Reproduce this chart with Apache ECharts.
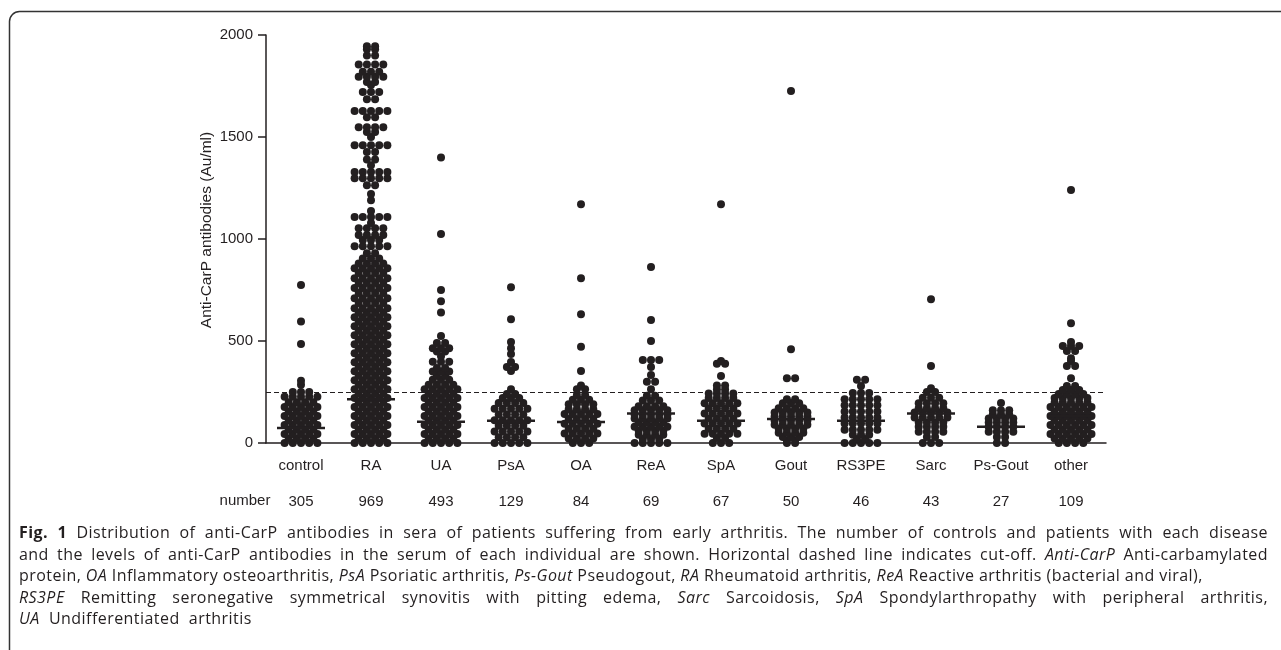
<!DOCTYPE html>
<html>
<head>
<meta charset="utf-8">
<script src="https://cdn.jsdelivr.net/npm/echarts@6/dist/echarts.min.js"></script>
<style>
  html, body { margin: 0; padding: 0; background: #fff; }
  #wrap { position: relative; width: 1281px; height: 650px; overflow: hidden; }
  #chart { position: absolute; left: 0; top: 0; width: 1281px; height: 650px; }
  #caption {
    position: absolute; left: 19px; top: 522px; width: 1249px;
    font-family: "Open Sans", "Noto Sans", sans-serif; font-size: 16px; letter-spacing: 0.45px;
    line-height: 21.5px; color: #231f20;
  }
  #caption div { white-space: nowrap; text-align: justify; text-align-last: justify; }
  #caption div.last { text-align-last: left; }
  #caption i { font-style: italic; }
</style>
</head>
<body>
<div id="wrap">
  <div id="chart"></div>
  <div id="caption">
    <div><b>Fig. 1</b> Distribution of anti-CarP antibodies in sera of patients suffering from early arthritis. The number of controls and patients with each disease</div>
    <div>and the levels of anti-CarP antibodies in the serum of each individual are shown. Horizontal dashed line indicates cut-off. <i>Anti-CarP</i> Anti-carbamylated</div>
    <div class="last">protein, <i>OA</i> Inflammatory osteoarthritis, <i>PsA</i> Psoriatic arthritis, <i>Ps-Gout</i> Pseudogout, <i>RA</i> Rheumatoid arthritis, <i>ReA</i> Reactive arthritis (bacterial and viral),</div>
    <div><i>RS3PE</i> Remitting seronegative symmetrical synovitis with pitting edema, <i>Sarc</i> Sarcoidosis, <i>SpA</i> Spondylarthropathy with peripheral arthritis,</div>
    <div class="last"><i>UA</i>&nbsp; Undifferentiated&nbsp; arthritis</div>
  </div>
</div>
<script>
var categories = ['control', 'RA', 'UA', 'PsA', 'OA', 'ReA', 'SpA', 'Gout', 'RS3PE', 'Sarc', 'Ps-Gout', 'other'];
var counts = [305, 969, 493, 129, 84, 69, 67, 50, 46, 43, 27, 109];
var medians = [73, 215, 104, 109, 103, 145, 109, 118, 109, 145, 80, 132];
var cutOff = 250;

// each row: [antibody level, dots side by side at that level]
var controlRows = [[0, 5], [22, 4], [44, 5], [66, 4], [88, 5], [110, 4], [132, 5], [154, 4], [176, 5],
  [200, 4], [227, 5], [250, 3], [285, 1], [305, 1], [485, 1], [595, 1], [775, 1]];
var raRows = [[0, 5], [22, 4], [44, 5], [66, 4], [88, 5], [110, 4], [132, 5], [154, 4], [176, 5],
  [198, 4], [220, 5], [242, 4], [264, 5], [286, 4], [308, 5], [330, 4], [352, 5], [374, 4], [396, 5],
  [418, 4], [440, 5], [462, 4], [484, 5], [506, 4], [528, 5], [550, 4], [572, 5], [594, 4], [616, 5],
  [638, 4], [660, 5], [686, 4], [710, 5], [735, 4], [760, 5], [784, 4], [808, 5], [833, 4], [857, 5],
  [880, 4], [905, 3], [930, 2], [965, 5], [995, 3], [1019, 4], [1053, 4], [1078, 1], [1108, 5],
  [1137, 1], [1190, 1], [1220, 1], [1264, 2], [1298, 5], [1328, 5], [1362, 1], [1390, 2], [1426, 2],
  [1460, 5], [1500, 1], [1524, 2], [1548, 4], [1597, 2], [1627, 5], [1685, 2], [1720, 3], [1755, 1],
  [1770, 2], [1795, 4], [1820, 3], [1855, 4], [1900, 2], [1930, 2], [1945, 2]];
var uaRows = [[0, 5], [22, 4], [44, 5], [66, 4], [88, 5], [110, 4], [132, 5], [154, 4], [176, 5],
  [198, 4], [220, 5], [242, 4], [264, 5], [286, 4], [310, 3], [330, 2], [350, 3], [368, 2], [398, 3],
  [425, 1], [448, 2], [465, 3], [490, 2], [525, 1], [640, 1], [695, 1], [750, 1], [1025, 1], [1400, 1]];
var psaRows = [[0, 5], [28, 4], [56, 5], [84, 4], [112, 5], [140, 4], [168, 5], [196, 4], [220, 3],
  [240, 2], [264, 1], [353, 1], [373, 2], [397, 1], [436, 1], [465, 1], [495, 1], [607, 1], [764, 1]];
var oaRows = [[0, 3], [22, 4], [46, 5], [70, 4], [94, 5], [118, 4], [142, 5], [166, 4], [190, 4],
  [212, 3], [235, 2], [263, 2], [282, 1], [353, 1], [472, 1], [631, 1], [807, 1], [1170, 1]];
var reaRows = [[0, 5], [20, 3], [40, 4], [60, 4], [80, 5], [100, 4], [120, 5], [140, 5], [160, 5],
  [180, 4], [208, 3], [232, 2], [264, 1], [300, 2], [333, 1], [373, 1], [407, 3], [500, 1], [603, 1], [863, 1]];
var spaRows = [[0, 3], [25, 2], [45, 5], [70, 4], [95, 5], [120, 4], [145, 5], [170, 4], [195, 5],
  [220, 4], [243, 4], [262, 2], [282, 2], [329, 1], [388, 2], [402, 1], [1170, 1]];
var goutRows = [[0, 2], [12, 2], [30, 3], [50, 4], [70, 4], [90, 5], [110, 5], [130, 5], [150, 5],
  [170, 4], [195, 3], [215, 2], [318, 2], [460, 1], [1725, 1]];
var rs3peRows = [[0, 5], [20, 2], [40, 3], [65, 5], [95, 5], [125, 5], [155, 5], [185, 5], [215, 5],
  [245, 3], [280, 1], [310, 2]];
var sarcRows = [[0, 3], [30, 2], [55, 4], [80, 4], [100, 4], [125, 5], [150, 5], [170, 4], [195, 4],
  [222, 3], [250, 2], [268, 1], [377, 1], [705, 1]];
var psgoutRows = [[0, 2], [30, 2], [55, 4], [80, 4], [100, 4], [120, 4], [140, 3], [160, 3], [196, 1]];
var otherRows = [[0, 4], [22, 5], [44, 6], [66, 5], [88, 6], [110, 5], [132, 6], [154, 5], [176, 6],
  [198, 5], [220, 5], [240, 4], [260, 3], [280, 2], [318, 1], [377, 2], [402, 1], [416, 1], [451, 2],
  [475, 3], [495, 1], [587, 1], [1240, 1]];

var groupRows = [controlRows, raRows, uaRows, psaRows, oaRows, reaRows, spaRows, goutRows,
  rs3peRows, sarcRows, psgoutRows, otherRows];

var STEP = 0.117; // horizontal distance between neighbouring dots, in category widths
var ink = '#231f20';

var dots = [];
groupRows.forEach(function (rows, i) {
  rows.forEach(function (row) {
    var n = row[1];
    for (var j = 0; j < n; j++) {
      dots.push([i + 0.5 + (j - (n - 1) / 2) * STEP, row[0]]);
    }
  });
});
var medianData = medians.map(function (m, i) { return [i + 0.5, m]; });

var chart = echarts.init(document.getElementById('chart'));
var font = 'Liberation Sans, Arial, sans-serif';

chart.setOption({
  animation: false,
  grid: { left: 266, right: 175, top: 35, bottom: 207 },
  xAxis: [
    {
      type: 'category',
      data: categories,
      axisLine: { lineStyle: { color: ink, width: 1.5 } },
      axisTick: { alignWithLabel: true, length: 6, lineStyle: { color: ink, width: 1.5 } },
      axisLabel: { interval: 0, fontFamily: font, fontSize: 15, color: ink, margin: 15 }
    },
    {
      type: 'category',
      data: categories,
      position: 'bottom',
      axisLine: { show: false },
      axisTick: { show: false },
      axisLabel: {
        interval: 0, fontFamily: font, fontSize: 15, color: ink, margin: 51,
        formatter: function (v, i) { return String(counts[i]); }
      }
    },
    { type: 'value', min: 0, max: 12, show: false }
  ],
  yAxis: {
    type: 'value',
    min: 0,
    max: 2000,
    interval: 500,
    name: 'Anti-CarP antibodies (Au/ml)',
    nameLocation: 'middle',
    nameGap: 51,
    nameMoveOverlap: false,
    nameTextStyle: { fontFamily: font, fontSize: 15.5, color: ink, padding: [0, 0, 0, 18] },
    axisLine: { show: true, lineStyle: { color: ink, width: 1.5 } },
    axisTick: { show: true, length: 8, lineStyle: { color: ink, width: 1.5 } },
    axisLabel: {
      fontFamily: font, fontSize: 15, color: ink, margin: 13,
      formatter: function (v) { return String(v); }
    },
    splitLine: { show: false }
  },
  graphic: [
    {
      type: 'rect', z: -1, silent: true,
      shape: { x: 9.5, y: 11.5, width: 1400, height: 800, r: 10 },
      style: { fill: 'none', stroke: '#333', lineWidth: 1.5 }
    },
    {
      type: 'text', x: 245, y: 501,
      style: { text: 'number', font: '15px ' + font, fill: ink, textAlign: 'center', textVerticalAlign: 'middle' }
    }
  ],
  series: [
    {
      type: 'scatter',
      xAxisIndex: 2,
      data: dots,
      symbolSize: 8,
      itemStyle: { color: ink, opacity: 1 },
      markLine: {
        silent: true,
        symbol: 'none',
        label: { show: false },
        lineStyle: { color: ink, width: 1, type: [5, 3] },
        data: [{ yAxis: cutOff }]
      }
    },
    {
      type: 'scatter',
      xAxisIndex: 2,
      data: medianData,
      symbol: 'rect',
      symbolSize: [48, 2.5],
      z: 5,
      itemStyle: { color: ink, opacity: 1 }
    }
  ]
});
</script>
</body>
</html>
